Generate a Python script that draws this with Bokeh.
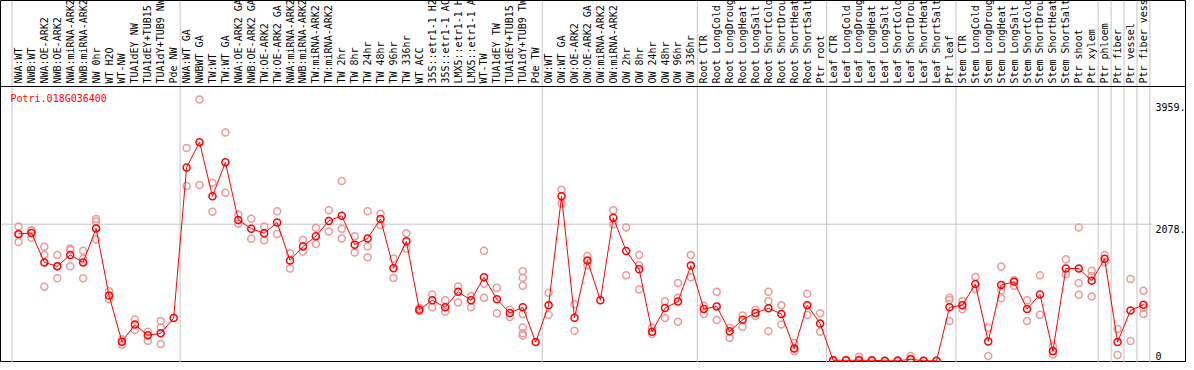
from math import pi
from bokeh.plotting import figure
from bokeh.models import Range1d, Span
from bokeh.core.properties import value
from bokeh.embed import file_html
from bokeh.resources import INLINE

title = "Potri.018G036400"

labels = [
    "NWA:WT", "NWB:WT", "NWA:OE-ARK2", "NWB:OE-ARK2", "NWA:miRNA-ARK2", "NWB:miRNA-ARK2",
    "NW 0hr", "WT H2O", "WT-NW", "TUA1dEY NW", "TUA1dEY+TUB15 NW", "TUA1dY+TUB9 NW", "Pde NW",
    "NWA:WT GA", "NWBWT GA", "TW:WT", "TW:WT GA", "NWA:OE-ARK2 GA", "NWB:OE-ARK2 GA",
    "TW:OE-ARK2", "TW:OE-ARK2 GA", "NWA:miRNA-ARK2 GA", "NWB:miRNA-ARK2 GA", "TW:miRNA-ARK2",
    "TW:miRNA-ARK2 GA", "TW 2hr", "TW 8hr", "TW 24hr", "TW 48hr", "TW 96hr", "TW 336hr",
    "WT ACC", "35S::etr1-1 H2O", "35S::etr1-1 ACC", "LMX5::etr1-1 H2O", "LMX5::etr1-1 ACC",
    "WT-TW", "TUA1dEY TW", "TUA1dEY+TUB15 TW", "TUA1dY+TUB9 TW", "Pde TW",
    "OW:WT", "OW:WT GA", "OW:OE-ARK2", "OW:OE-ARK2 GA", "OW:miRNA-ARK2", "OW:miRNA-ARK2 GA",
    "OW 2hr", "OW 8hr", "OW 24hr", "OW 48hr", "OW 96hr", "OW 336hr",
    "Root CTR", "Root LongCold", "Root LongDrought", "Root LongHeat", "Root LongSalt",
    "Root ShortCold", "Root ShortDrought", "Root ShortHeat", "Root ShortSalt", "Ptr root",
    "Leaf CTR", "Leaf LongCold", "Leaf LongDrought", "Leaf LongHeat", "Leaf LongSalt",
    "Leaf ShortCold", "Leaf ShortDrought", "Leaf ShortHeat", "Leaf ShortSalt", "Ptr leaf",
    "Stem CTR", "Stem LongCold", "Stem LongDrought", "Stem LongHeat", "Stem LongSalt",
    "Stem ShortCold", "Stem ShortDrought", "Stem ShortHeat", "Stem ShortSalt", "Ptr shoot",
    "Ptr xylem", "Ptr phloem", "Ptr fiber", "Ptr vessel", "Ptr fiber vessel",
]

# index of the last sample of each group (a grey separator follows it)
group_ends = [12, 40, 52, 62, 72, 83, 84, 85, 86, 87]

means = [
    1931, 1946, 1502, 1443, 1615, 1502, 2015, 1004, 305, 564, 403, 432, 662,
    2934, 3315, 2499, 3011, 2142, 2011, 1942, 2103, 1531, 1741, 1898, 2128, 2205,
    1770, 1864, 2157, 1414, 1820, 788, 931, 824, 1058, 931, 1278, 945, 740, 824, 300,
    857, 2499, 667, 1531, 931, 2176, 1673, 1399, 457, 813, 911, 1454,
    799, 838, 462, 637, 740, 809, 725, 202, 857, 579,
    26, 26, 26, 26, 18, 18, 41, 18, 18, 824,
    857, 1175, 311, 1161, 1209, 799, 1018, 164, 1410, 1410, 1224,
    1556, 300, 777, 862,
]

reps = [
    [2044, 1920, 1810], [1986, 1980, 1873], [1737, 1615, 1136], [1615, 1443, 1263],
    [1712, 1690, 1443], [1678, 1556, 1263], [2157, 2118, 1849], [1067, 945],
    [344, 261], [642, 481], [457, 319], [618, 520, 271], [],
    [3227, 2655], [3959, 2670], [2704, 2264], [3461, 2553], [2224, 2084],
    [2161, 1858], [2044, 1835], [2274, 1931], [1638, 1410], [1839, 1668],
    [2025, 1780], [2289, 1967], [2729, 2011, 1864], [1898, 1653], [2274, 1747, 1580],
    [2235, 2063], [1561, 1268], [1942, 1712], [813, 765], [1018, 824], [931, 759],
    [1140, 897], [994, 824], [1678, 1180, 970], [1121, 736], [788, 677],
    [1370, 1272, 1150, 725, 520, 432, 399], [],
    [1043, 711], [2597, 2392], [872, 472], [1600, 1458], [], [2289, 2078],
    [2030, 1307], [1615, 1458, 1092], [516, 422], [916, 662], [1190, 970, 608], [1615, 1278],
    [847, 725], [1058, 633], [516, 363], [700, 530], [788, 692], [1058, 916, 462],
    [857, 564], [286, 164], [1029, 707], [736, 457],
    [26, 20], [26, 30], [81, 30], [26, 20], [18], [18, 25], [91, 50], [18], [18],
    [970, 935, 618],
    [916, 794], [1282, 1102], [516, 91], [1439, 1081, 960], [1238, 1150], [931, 618],
    [1307, 711], [237, 114], [1550, 1322], [2030, 1190, 1014], [1375, 1297, 989],
    [1615, 1506], [498, 106], [1253, 315], [1073, 813, 725],
]

tick_values = [3959, 2078, 0]
tick_labels = ["3959.", "2078.", "0"]

# ---- layout (pixels inside the figure) ----
W, H = 1186, 362
X0, DX = 18.0, 12.93     # pixel of sample 0, pixels per sample
Y0, SY = 361.5, 15.08    # pixel of value 0, value units per pixel


def xpx(px):
    return (px - X0) / DX


def ypx(py):
    return (Y0 - py) * SY


FONT = value("DejaVu Sans Mono")

p = figure(width=W, height=H, output_backend="svg", toolbar_location=None,
           x_range=Range1d(xpx(0), xpx(W)), y_range=Range1d(ypx(H), ypx(0)),
           x_axis_type=None, y_axis_type=None, min_border=0,
           min_border_left=0, min_border_right=0, min_border_top=0, min_border_bottom=0)
p.outline_line_color = "black"
p.outline_line_width = 1
p.background_fill_color = "white"
p.border_fill_color = "white"

# group separators
p.add_layout(Span(location=-0.5, dimension="height", line_color="#C4C4C4",
                  line_width=1, level="underlay"))
for g in group_ends:
    p.add_layout(Span(location=g + 0.5, dimension="height", line_color="#C4C4C4",
                      line_width=1, level="underlay"))

# horizontal grid line at middle tick
p.segment(x0=[xpx(0)], y0=[tick_values[1]], x1=[xpx(1152)], y1=[tick_values[1]],
          line_color="#C4C4C4", line_width=1, level="underlay")

# separator between label band and plot
p.add_layout(Span(location=ypx(86), dimension="width", line_color="black", line_width=1))

idx = list(range(len(labels)))

# sample labels (rotated)
p.text(x=idx, y=[ypx(83)] * len(idx), text=labels, angle=pi / 2,
       text_align="left", text_baseline="middle", text_font=FONT,
       text_font_size="10px", text_color="black")

# replicates
rx, ry = [], []
for i, rs in enumerate(reps):
    for v in rs:
        rx.append(i)
        ry.append(v)
p.scatter(x=rx, y=ry, marker="circle", size=7, fill_color=None,
          line_color="#EE9A9A", line_width=1.5)

# mean line + points
p.line(x=idx, y=means, line_color="#FF0000", line_width=1)
p.scatter(x=idx, y=means, marker="circle", size=7, fill_color=None,
          line_color="#FF0000", line_width=1.5)

# title
p.text(x=[xpx(10)], y=[ypx(92)], text=[title], text_align="left", text_baseline="top",
       text_font=FONT, text_font_size="10px", text_color="#FF0000")

# value labels on the right
p.text(x=[xpx(1155)], y=tick_values[:1], text=tick_labels[:1], text_align="left",
       text_baseline="top", y_offset=4, text_font=FONT, text_font_size="10px",
       text_color="black")
p.text(x=[xpx(1155)], y=tick_values[1:2], text=tick_labels[1:2], text_align="left",
       text_baseline="top", y_offset=1, text_font=FONT, text_font_size="10px",
       text_color="black")
p.text(x=[xpx(1155)], y=tick_values[2:], text=tick_labels[2:], text_align="left",
       text_baseline="bottom", y_offset=-2, text_font=FONT, text_font_size="10px",
       text_color="black")

open("out.html", "w").write(file_html(p, INLINE))
